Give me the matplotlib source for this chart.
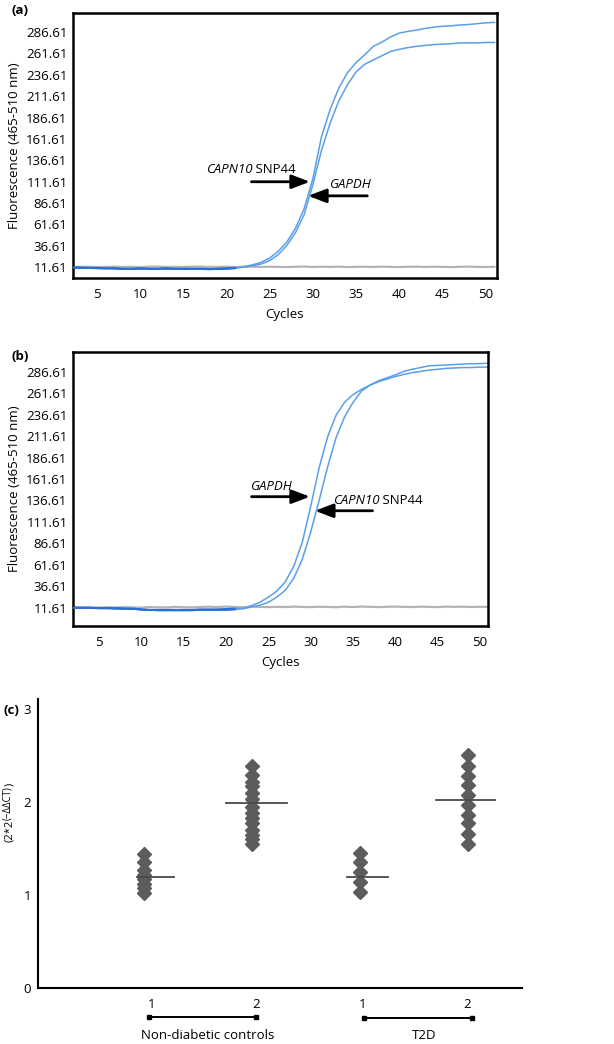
import matplotlib
matplotlib.use("Agg")
import matplotlib.pyplot as plt
from matplotlib import font_manager

# ---------------- data ----------------
cycles = list(range(2, 52))
y_ticks = [11.61, 36.61, 61.61, 86.61, 111.61, 136.61, 161.61, 186.61,
           211.61, 236.61, 261.61, 286.61]
x_ticks = [5, 10, 15, 20, 25, 30, 35, 40, 45, 50]

a_capn10 = [11, 11, 10.5, 10.5, 10, 10, 9.5, 9.5, 10, 9.5,
            9.5, 10, 9.5, 9.5, 9.5, 9.5, 9, 9.5, 10, 10.5,
            12, 14, 17, 22, 30, 41, 57, 80, 115, 164,
            196, 221, 239, 251, 260, 270, 275, 281, 285.5, 287.5,
            289, 291, 292.5, 293.5, 294, 295, 295.5, 296.5, 297.5, 298]
a_gapdh = [11, 10.5, 10.5, 10, 10, 10, 9.5, 9, 9.5, 9.5,
           9.5, 9.5, 9.5, 9, 9.5, 9.5, 9.5, 9, 9.5, 10,
           11.5, 13, 15, 19, 26, 37, 52, 73, 108, 148,
           180, 206, 225, 240, 249, 254, 259, 264, 266.5, 268.5,
           270, 271, 272, 272.5, 273, 274, 274, 274, 274.5, 274.5]
a_gray = [11.8, 11.6, 11.9, 11.5, 11.7, 12.0, 11.6, 11.8, 11.4, 11.9,
          12.1, 11.6, 11.8, 11.5, 11.9, 12.0, 11.6, 11.7, 11.9, 11.5,
          11.8, 12.0, 11.6, 11.9, 11.7, 11.5, 11.8, 12.1, 11.6, 11.9,
          11.7, 12.0, 11.5, 11.8, 11.9, 11.6, 12.0, 11.7, 11.5, 11.8,
          12.0, 11.6, 11.9, 11.7, 11.5, 11.8, 12.0, 11.7, 11.6, 11.8]

b_gapdh = [11.6, 11.6, 11.5, 11, 11, 11, 10.5, 10.5, 9.5, 9,
           9, 9, 9, 9, 9, 9.5, 9.5, 9.5, 10, 10.5, 11,
           14, 18, 24, 31, 42, 60, 88, 130, 175, 211,
           236, 251, 260, 266, 271, 276, 279.5, 283, 287, 289.5,
           291.5, 293.5, 294, 294.5, 295, 295.5, 296, 296, 296.5]
b_capn10 = [11.6, 11.6, 11.5, 11, 11, 10.5, 10.5, 10, 9.5, 9,
            8.5, 8.5, 8.5, 8.5, 8.5, 9, 9, 9, 9, 9.5, 10.5,
            12.5, 14.5, 18, 24, 32, 46, 68, 100, 137, 176,
            210, 234, 251, 264, 271, 275, 278, 281, 283.5, 285.5,
            287, 288.5, 289.5, 290.5, 291, 291.5, 291.5, 292, 292]
b_gray = [12.0, 11.8, 12.1, 11.7, 12.2, 11.9, 12.3, 12.0, 11.8, 12.4,
          12.1, 11.9, 12.6, 12.2, 12.0, 12.5, 12.8, 12.3, 12.9, 12.4,
          12.2, 12.8, 12.5, 12.3, 12.6, 12.4, 12.9, 12.5, 12.3, 12.7,
          12.5, 12.2, 12.8, 12.4, 12.9, 12.6, 12.3, 12.7, 12.9, 12.5,
          12.4, 12.8, 12.6, 12.3, 12.9, 12.6, 12.8, 12.4, 12.7, 12.6]

# panel (c)
group_x = [1, 2, 3, 4]
group_tick_labels = ["1", "2", "1", "2"]
group_names = ["Non-diabetic controls", "T2D"]
c_nd1 = [1.02, 1.07, 1.12, 1.17, 1.22, 1.27, 1.35, 1.44]
c_nd2 = [1.55, 1.60, 1.65, 1.70, 1.77, 1.83, 1.88, 1.95, 2.03, 2.10,
         2.17, 2.22, 2.29, 2.39]
c_t1 = [1.03, 1.14, 1.25, 1.35, 1.45]
c_t2 = [1.55, 1.66, 1.77, 1.86, 1.97, 2.08, 2.18, 2.28, 2.39, 2.50]
c_means = [1.19, 1.99, 1.19, 2.025]
c_yticks = [0, 1, 2, 3]

# ---------------- fonts ----------------
avail = {f.name for f in font_manager.fontManager.ttflist}
fam = "Liberation Sans Narrow" if "Liberation Sans Narrow" in avail else "Open Sans"
plt.rcParams["font.family"] = [fam, "DejaVu Sans"]
FS = 9.5

BLUE = "#5a9fe8"
DBLUE = "#2b6fd2"
GRAY = "#b4b4b4"

W, H = 614, 1044
fig = plt.figure(figsize=(W / 100, H / 100), dpi=100)


def fax(l, t, r, b):
    return fig.add_axes([l / W, 1 - b / H, (r - l) / W, (b - t) / H])


def qpcr_panel(ax, c1, c2, gray, ylim, xlim):
    ax.plot(cycles, gray, color=GRAY, lw=1.6, zorder=1)
    ax.plot(cycles, c1, color=BLUE, lw=1.1, zorder=2)
    ax.plot(cycles, c2, color=BLUE, lw=1.1, zorder=2)
    n = 20
    ax.plot(cycles[:n], c1[:n], color=DBLUE, lw=1.6, zorder=3)
    ax.plot(cycles[:n], c2[:n], color=DBLUE, lw=1.2, zorder=3)
    ax.set_xlim(*xlim)
    ax.set_ylim(*ylim)
    ax.set_yticks(y_ticks)
    ax.set_yticklabels([f"{v:.2f}" for v in y_ticks])
    ax.set_xticks(x_ticks)
    ax.tick_params(length=0, labelsize=FS, pad=4)
    ax.tick_params(axis="x", pad=7)
    for s in ax.spines.values():
        s.set_linewidth(1.8)
    ax.set_xlabel("Cycles", fontsize=FS, labelpad=5)
    ax.set_ylabel("Fluorescence (465-510 nm)", fontsize=FS, labelpad=4)


def arrow(ax, tip, tail):
    ax.annotate("", xy=tip, xytext=tail,
                arrowprops=dict(arrowstyle="-|>,head_length=1.1,head_width=0.42",
                                lw=2, color="black", shrinkA=0, shrinkB=0),
                zorder=5)


def capn_label(ax, xsplit, y):
    ax.text(xsplit, y, "CAPN10", style="italic", fontsize=FS, ha="right", va="center")
    ax.text(xsplit, y, " SNP44", fontsize=FS, ha="left", va="center")


# ---- (a)
ax1 = fax(73, 13, 497, 278)
qpcr_panel(ax1, a_capn10, a_gapdh, a_gray, (-1.3, 309), (2.26, 51.3))
arrow(ax1, (29.66, 111.4), (22.9, 111.4))
arrow(ax1, (29.45, 94.9), (36.3, 94.9))
capn_label(ax1, 23.0, 126)
ax1.text(34.3, 108, "GAPDH", style="italic", fontsize=FS, ha="center", va="center")
fig.text(11 / W, 1 - 10 / H, "(a)", fontsize=FS, fontweight="bold", va="center")

# ---- (b)
ax2 = fax(73, 352, 488, 626)
qpcr_panel(ax2, b_gapdh, b_capn10, b_gray, (-9.7, 309.6), (1.9, 50.95))
arrow(ax2, (29.9, 141), (23.0, 141))
arrow(ax2, (30.5, 124.6), (37.3, 124.6))
ax2.text(25.3, 153, "GAPDH", style="italic", fontsize=FS, ha="center", va="center")
capn_label(ax2, 38.1, 136)
fig.text(11 / W, 1 - 357 / H, "(b)", fontsize=FS, fontweight="bold", va="center")

# ---- (c)
ax3 = fax(38, 699, 522, 988)
groups = [c_nd1, c_nd2, c_t1, c_t2]
mean_left = [0.065, 0.24, 0.12, 0.30]
mean_right = [0.278, 0.32, 0.26, 0.25]
for gx, vals, m, ml, mr in zip(group_x, groups, c_means, mean_left, mean_right):
    ax3.plot([gx] * len(vals), vals, ls="none", marker="D", ms=7.3,
             color="#5c5c5c", mec="#5c5c5c", zorder=2)
    ax3.plot([gx - ml, gx + mr], [m, m], color="#4a4a4a", lw=1.3, zorder=3)
ax3.set_xlim(0.016, 4.5)
ax3.set_ylim(0, 3.107)
ax3.set_yticks(c_yticks)
ax3.set_yticklabels([str(v) for v in c_yticks])
ax3.set_xticks([])
ax3.tick_params(length=0, labelsize=FS, pad=5)
for s in ("top", "right"):
    ax3.spines[s].set_visible(False)
for s in ("left", "bottom"):
    ax3.spines[s].set_linewidth(1.5)
fig.text(4 / W, 1 - 710 / H, "(c)", fontsize=FS, fontweight="bold", va="center")

# composite rotated y label: (2*2^(−ΔΔCT))
renderer = fig.canvas.get_renderer()
parts = [("(2*2", 8.0, 0.0), ("(\u2212\u0394\u0394CT)", 7.0, -2.5), (")", 8.0, 0.0)]
ypos = 1 - 842 / H
for s, size, dx in parts:
    t = fig.text(10 / W + dx / W, ypos, s, fontsize=size, rotation=90,
                 ha="center", va="bottom")
    bb = t.get_window_extent(renderer)
    ypos += bb.height / H

tick_off = [0.065, 0.04, 0.02, -0.01]
for gx, lab, off in zip(group_x, group_tick_labels, tick_off):
    ax3.text(gx + off, -0.18, lab, fontsize=FS, ha="center", va="center", clip_on=False)
for (g0, g1), name, yb in zip([(1, 2), (3, 4)], group_names, [-0.31, -0.32]):
    x0, x1 = group_x[g0 - 1] + 0.04, group_x[g1 - 1] + 0.04
    ax3.plot([x0, x1], [yb, yb], color="black", lw=1.4, clip_on=False)
    ax3.plot([x0, x1], [yb, yb], ls="none", marker="s", ms=3.5, color="black", clip_on=False)
    ax3.text((x0 + x1) / 2 + 0.05, -0.515, name, fontsize=FS, ha="center", va="center", clip_on=False)

fig.savefig("out.png", dpi=100)
